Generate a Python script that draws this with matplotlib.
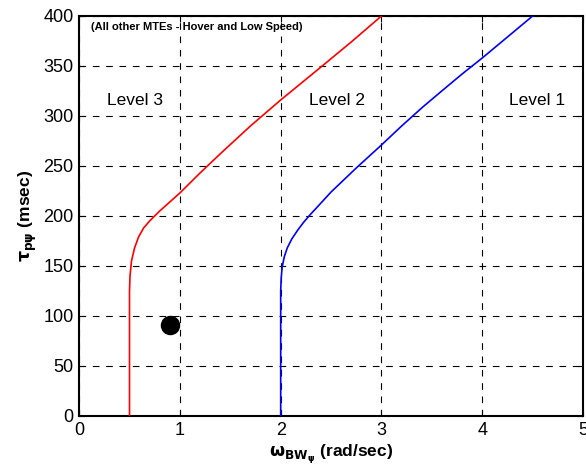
import matplotlib
matplotlib.use("Agg")
import matplotlib.pyplot as plt

plt.rcParams['font.family'] = ['Liberation Sans', 'DejaVu Sans']

# Level 3/2 boundary (red)
red_x = [0.5, 0.5, 0.505, 0.52, 0.55, 0.59, 0.64, 0.70, 0.80, 0.90, 1.0, 1.2, 1.42, 1.7, 2.0, 2.4, 2.7, 3.0]
red_y = [0, 125, 140, 155, 168, 179, 188, 195, 205, 214, 223, 243, 264, 290, 316, 349, 374, 400]

# Level 2/1 boundary (blue)
blue_x = [2.0, 2.0, 2.005, 2.015, 2.035, 2.065, 2.11, 2.17, 2.23, 2.29, 2.4, 2.5, 2.75, 3.0, 3.2, 3.41, 3.61, 3.8, 4.0, 4.25, 4.5]
blue_y = [0, 125, 138, 149, 159, 168, 177, 186, 194, 201, 213, 224, 248, 271, 290, 309, 326, 342, 358, 379, 400]

# flight test point
pt_x = [0.9]
pt_y = [91]

levels = ["Level 3", "Level 2", "Level 1"]
level_x = [0.55, 2.56, 4.54]
level_y = [315, 315, 315]

fig = plt.figure(figsize=(5.86, 4.70), dpi=100)
ax = fig.add_axes([0.135, 0.115, 0.86, 0.851])
ax.set_axisbelow(True)

ax.plot(red_x, red_y, color="red", lw=1.2, zorder=3)
ax.plot(blue_x, blue_y, color="blue", lw=1.2, zorder=3)
ax.plot(pt_x, pt_y, "o", color="black", markersize=13, zorder=4)

for lab, lx, ly in zip(levels, level_x, level_y):
    ax.text(lx, ly, lab, fontsize=12.5, ha="center", va="center")

ax.text(0.12, 389, "(All other MTEs - Hover and Low Speed)", fontsize=8,
        fontweight="bold", va="center", ha="left")

ax.set_xlim(0, 5)
ax.set_ylim(0, 400)
ax.set_xticks([0, 1, 2, 3, 4, 5])
ax.set_yticks(range(0, 401, 50))
ax.grid(True, color="black", linestyle=(0, (6, 6)), linewidth=0.8)
ax.tick_params(direction="in", top=True, right=True, labelsize=13, length=4, pad=4)
for s in ax.spines.values():
    s.set_linewidth(1.5)

ax.set_xlabel(r"$\mathbf{\omega_{BW_\psi}}$ (rad/sec)", fontsize=12.5, fontweight="bold", labelpad=3)
ax.set_ylabel(r"$\mathbf{\tau_{p\psi}}$ (msec)", fontsize=12.5, fontweight="bold", labelpad=3)

fig.savefig("out.png", dpi=100)
